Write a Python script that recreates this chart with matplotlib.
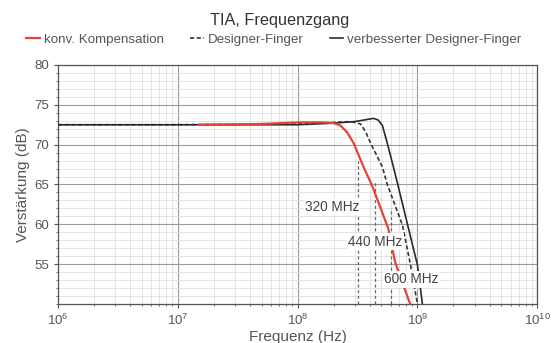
import matplotlib
matplotlib.use("Agg")
import matplotlib.pyplot as plt
from matplotlib.ticker import LogLocator, MultipleLocator, NullFormatter

plt.rcParams['font.family'] = ['Liberation Sans', 'DejaVu Sans']

# Data
freq_red = [1.5e7, 5e7, 1e8, 1.6e8, 2.0e8, 2.28e8, 2.6e8, 2.93e8, 3.55e8, 4.2e8, 5.7e8, 6.5e8, 7.6e8, 8.7e8]
db_red   = [72.5, 72.6, 72.8, 72.8, 72.7, 72.4, 71.5, 70.2, 67.2, 64.8, 59.5, 55.3, 52.4, 50.0]

freq_dash = [1e6, 1e7, 1e8, 2e8, 2.8e8, 3.35e8, 3.7e8, 4.06e8, 5.1e8, 5.6e8, 7.5e8, 8.7e8, 1.0e9]
db_dash   = [72.5, 72.5, 72.6, 72.8, 72.9, 72.6, 71.6, 70.2, 67.2, 65.0, 59.9, 55.1, 50.0]

freq_solid = [1e6, 1e7, 1e8, 2e8, 3e8, 3.6e8, 4.3e8, 4.7e8, 5.1e8, 5.6e8, 6.3e8, 6.8e8, 1.0e9, 1.1e9]
db_solid   = [72.5, 72.5, 72.5, 72.7, 72.9, 73.1, 73.3, 73.1, 72.4, 70.2, 67.2, 65.2, 54.9, 50.0]

marker_freqs = [3.2e8, 4.4e8, 6.0e8]
marker_tops = [68.0, 65.5, 62.0]
marker_labels = ["320 MHz", "440 MHz", "600 MHz"]
label_pos = [(1.96e8, 62.2), (4.47e8, 57.8), (8.9e8, 53.1)]

fig = plt.figure(figsize=(5.59, 3.43), dpi=100)
ax = fig.add_axes([0.104, 0.1137, 0.857, 0.6968])

ax.set_xscale('log')
ax.set_xlim(1e6, 1e10)
ax.set_ylim(50, 80)

ax.xaxis.set_major_locator(LogLocator(base=10, numticks=10))
ax.xaxis.set_minor_locator(LogLocator(base=10, subs=range(2, 10), numticks=20))
ax.xaxis.set_minor_formatter(NullFormatter())
ax.set_yticks([55, 60, 65, 70, 75, 80])
ax.yaxis.set_minor_locator(MultipleLocator(1))

ax.grid(True, which='major', color='#9a9a9a', linewidth=0.8)
ax.grid(True, which='minor', color='#dedede', linewidth=0.6)
ax.set_axisbelow(True)

for s in ax.spines.values():
    s.set_color('#555555')
    s.set_linewidth(0.9)
ax.tick_params(which='both', colors='#555555', labelcolor='#555555', labelsize=9.5, direction='out')
ax.tick_params(which='major', length=3)
ax.tick_params(which='minor', length=1.5)

for f, top in zip(marker_freqs, marker_tops):
    ax.plot([f, f], [50, top], color='#666666', linestyle=(0, (2.5, 2)), linewidth=0.9, zorder=2)

l1, = ax.plot(freq_red, db_red, color='#e0453a', linewidth=1.6, zorder=4, label='konv. Kompensation')
l2, = ax.plot(freq_dash, db_dash, color='#333333', linewidth=1.2, linestyle=(0, (2.5, 1.5)), zorder=3, label='Designer-Finger')
l3, = ax.plot(freq_solid, db_solid, color='#2a2a2a', linewidth=1.2, zorder=3, label='verbesserter Designer-Finger')

for (x, y), t in zip(label_pos, marker_labels):
    ax.text(x, y, t, fontsize=9.8, color='#444444', ha='center', va='center', zorder=6,
            bbox=dict(facecolor='white', edgecolor='none', pad=1.0))

ax.set_xlabel('Frequenz (Hz)', fontsize=11, color='#555555', labelpad=1)
ax.set_ylabel('Verstärkung (dB)', fontsize=11, color='#555555', labelpad=3)

fig.text(0.5, 0.94, 'TIA, Frequenzgang', ha='center', va='center', fontsize=11.7, color='#333333')
fig.legend(handles=[l1, l2, l3], loc='center', bbox_to_anchor=(0.49, 0.885), ncol=3, frameon=False,
           fontsize=9.6, handlelength=1.0, handletextpad=0.3, columnspacing=2.0, labelcolor='#555555')

fig.savefig('out.png', dpi=100)
